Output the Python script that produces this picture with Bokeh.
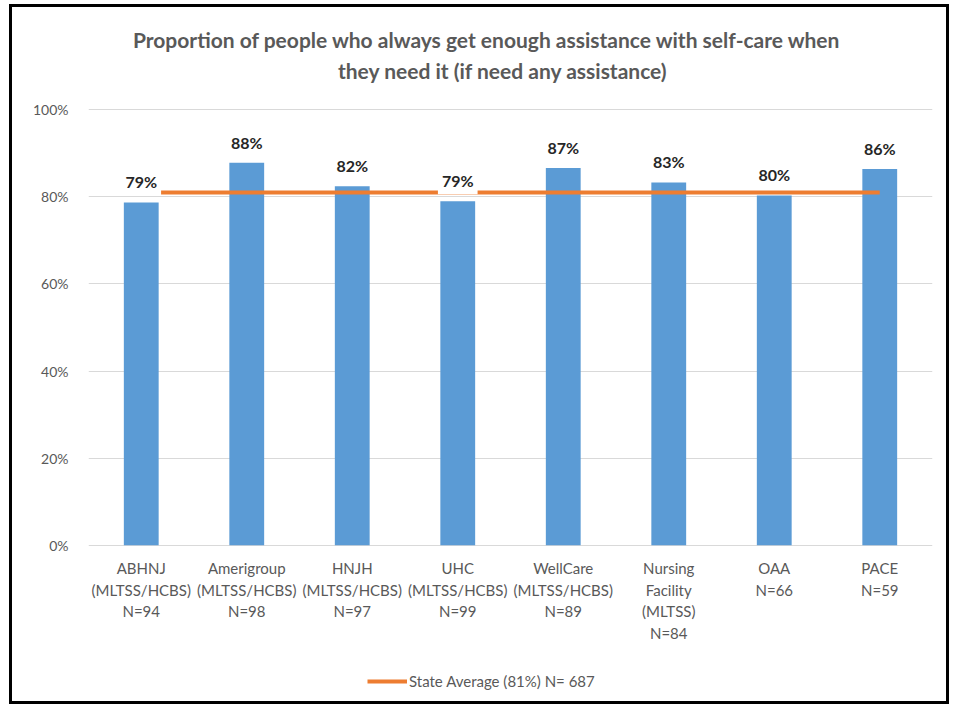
from bokeh.plotting import figure
from bokeh.models import (ColumnDataSource, Label, Legend, LegendItem,
                          FixedTicker, Range1d, FactorRange, PrintfTickFormatter)
from bokeh.core.properties import value
from bokeh.embed import file_html
from bokeh.resources import INLINE

# ---- data ----
categories = [
    "ABHNJ\n(MLTSS/HCBS)\nN=94",
    "Amerigroup\n(MLTSS/HCBS)\nN=98",
    "HNJH\n(MLTSS/HCBS)\nN=97",
    "UHC\n(MLTSS/HCBS)\nN=99",
    "WellCare\n(MLTSS/HCBS)\nN=89",
    "Nursing\nFacility\n(MLTSS)\nN=84",
    "OAA\nN=66",
    "PACE\nN=59",
]
values = [78.7, 87.8, 82.4, 79.0, 86.6, 83.3, 80.3, 86.4]
value_labels = ["79%", "88%", "82%", "79%", "87%", "83%", "80%", "86%"]
state_avg = 81
legend_label = "State Average (81%) N= 687"
title_lines = ["Proportion of people who always get enough assistance with self-care when",
               "they need it (if need any assistance)"]
y_ticks = [0, 20, 40, 60, 80, 100]

FONT = "Lato"
GRAY = "#595959"

# the frame covers the whole inner canvas; 0..100 is the value scale
p = figure(x_range=FactorRange(*categories, range_padding=0), y_range=Range1d(-33.56, 123.45),
           width=940, height=700, output_backend="svg", toolbar_location=None,
           min_border_left=76, min_border_right=20, min_border_top=0, min_border_bottom=16)
p.styles = {"border": "3px solid #000000", "margin-left": "9px", "margin-top": "4px"}
p.outline_line_color = None
p.background_fill_color = "white"

# bars
src = ColumnDataSource(dict(cat=categories, val=values, lab=value_labels))
p.vbar(x="cat", top="val", width=0.33, source=src, color="#5B9BD5", line_color=None)

# state average line
avg_line = p.line(x=[categories[0], categories[-1]], y=[state_avg, state_avg],
                  line_color="#ED7D31", line_width=4)

# data labels (white boxes hide the average line behind them)
for i, (v, lab) in enumerate(zip(values, value_labels)):
    p.add_layout(Label(x=i + 0.5, y=v, text=lab, text_align="center",
                       text_baseline="bottom", y_offset=7, padding=4,
                       text_font=FONT, text_font_size="16px", text_font_style="bold",
                       text_color="#262626", background_fill_color="white"))

# category labels drawn below the zero line
p.text(x=categories, y=[0] * len(categories), text=categories, text_align="center",
       text_baseline="top", y_offset=14, text_font=value(FONT),
       text_font_size="15px", text_color=GRAY, text_line_height=1.2)

# title (two centred lines above the 100% line)
mid = len(categories) / 2
for txt, dx, dy in [(title_lines[0], -23.5, 70), (title_lines[1], -7.5, 39)]:
    p.add_layout(Label(x=mid, y=y_ticks[-1], text=txt, x_offset=dx, y_offset=dy,
                       text_align="center", text_baseline="middle",
                       text_font=FONT, text_font_size="21px", text_font_style="bold",
                       text_color=GRAY))

# axes
p.xaxis.visible = False
p.yaxis.ticker = FixedTicker(ticks=y_ticks)
p.yaxis.formatter = PrintfTickFormatter(format="%d%%")
p.yaxis.axis_line_color = None
p.yaxis.major_tick_line_color = None
p.yaxis.minor_tick_line_color = None
p.yaxis.major_label_text_font = FONT
p.yaxis.major_label_text_font_size = "14px"
p.yaxis.major_label_text_color = GRAY
p.yaxis.major_label_standoff = 14

p.xgrid.grid_line_color = None
p.ygrid.grid_line_color = "#D9D9D9"
p.ygrid.grid_line_width = 1

# legend
legend = Legend(items=[LegendItem(label=legend_label, renderers=[avg_line])],
                orientation="horizontal", border_line_color=None,
                background_fill_alpha=0, location=(279, 1), padding=0, margin=0,
                label_text_font=FONT, label_text_font_size="15px",
                label_text_color=GRAY, glyph_width=40, glyph_height=12,
                label_standoff=2)
p.add_layout(legend, "center")

open("out.html", "w").write(file_html(p, INLINE))
